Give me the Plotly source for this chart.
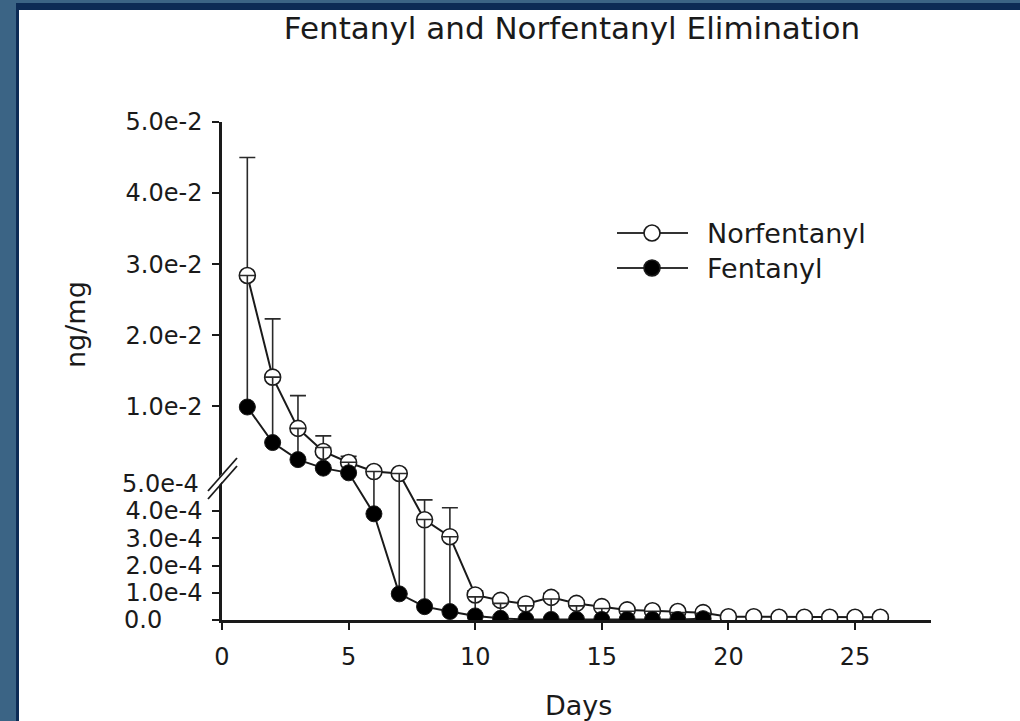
import plotly.graph_objects as go

# ---------------- data ----------------
norf_days = list(range(1, 27))
norf_vals = [0.0284, 0.0141, 0.0069, 0.00364, 0.0021, 0.00082, 0.00055,
             3.68e-4, 3.06e-4, 0.92e-4, 0.72e-4, 0.59e-4, 0.83e-4, 0.61e-4,
             0.49e-4, 0.37e-4, 0.34e-4, 0.31e-4, 0.27e-4, 0.12e-4, 0.12e-4,
             0.10e-4, 0.10e-4, 0.10e-4, 0.10e-4, 0.10e-4]
norf_err = [0.0166, 0.0082, 0.0046, 0.0022, 0.00085, 0.0, 0.0,
            0.73e-4, 1.06e-4, 0.15e-4, 0.10e-4, 0.10e-4, 0.15e-4, 0.10e-4,
            0.10e-4, 0.05e-4, 0.05e-4, 0.05e-4, 0.05e-4, 0.0, 0.0,
            0.0, 0.0, 0.0, 0.0, 0.0]

fent_days = list(range(1, 20))
fent_vals = [0.0099, 0.0049, 0.0025, 0.0013, 0.00064, 3.9e-4, 0.96e-4,
             0.49e-4, 0.31e-4, 0.15e-4, 0.06e-4, 0.02e-4, 0.02e-4, 0.02e-4,
             0.02e-4, 0.02e-4, 0.02e-4, 0.02e-4, 0.05e-4]
fent_err = [0.0185, 0.0092, 0.0044, 0.0029, 0.0015, 4.3e-4, 4.5e-4,
            3.2e-4, 2.75e-4, 0.70e-4, 0.55e-4, 0.50e-4, 0.75e-4, 0.50e-4,
            0.40e-4, 0.30e-4, 0.30e-4, 0.25e-4, 0.20e-4]

series_names = ["Norfentanyl", "Fentanyl"]

x_ticks = [0, 5, 10, 15, 20, 25]
y_ticks_low = [1e-4, 2e-4, 3e-4, 4e-4]
y_ticks_low_text = ["1.0e-4", "2.0e-4", "3.0e-4", "4.0e-4"]
y_ticks_up = [1e-2, 2e-2, 3e-2, 4e-2, 5e-2]
y_ticks_up_text = ["1.0e-2", "2.0e-2", "3.0e-2", "4.0e-2", "5.0e-2"]

# ---------------- broken-axis scale ----------------
BREAK = 5e-4
LOW_SCALE = 272000.0   # display units per ng/mg below the break
UP_BASE = 146.0        # display position where the upper segment starts
UP_SCALE = 7100.0      # display units per ng/mg above the break
Y_TOP = UP_BASE + (5e-2 - BREAK) * UP_SCALE


def disp(v):
    if v <= BREAK:
        return v * LOW_SCALE
    return UP_BASE + (v - BREAK) * UP_SCALE


def disp_list(vals):
    return [disp(v) for v in vals]


def err_plus(vals, errs):
    return [disp(v + e) - disp(v) for v, e in zip(vals, errs)]


FONT = "DejaVu Sans, Liberation Sans, Arial, sans-serif"
INK = "#1a1a1a"

fig = go.Figure()

fig.add_trace(go.Scatter(
    x=norf_days, y=disp_list(norf_vals), name=series_names[0],
    mode="lines+markers", showlegend=False,
    line=dict(color=INK, width=2),
    marker=dict(symbol="circle", size=16, color="white",
                line=dict(color=INK, width=1.6)),
    error_y=dict(type="data", symmetric=False,
                 array=err_plus(norf_vals, norf_err),
                 arrayminus=[0] * len(norf_vals),
                 color="#2a2a2a", thickness=1.6, width=8),
))

fig.add_trace(go.Scatter(
    x=fent_days, y=disp_list(fent_vals), name=series_names[1],
    mode="lines+markers", showlegend=False,
    line=dict(color=INK, width=2),
    marker=dict(symbol="circle", size=16, color="black",
                line=dict(color=INK, width=1)),
    error_y=dict(type="data", symmetric=False,
                 array=err_plus(fent_vals, fent_err),
                 arrayminus=[0] * len(fent_vals),
                 color="#2a2a2a", thickness=1.6, width=8),
))

# ---------------- layout geometry ----------------
W, H = 1020, 721
L, R, T, B = 222, 89, 122, 101
PW = W - L - R
PH = H - T - B


def px_x(px):
    return (px - L) / PW


def px_y(py):
    return (H - B - py) / PH


tickvals = [0.0] + [disp(v) for v in y_ticks_low] + [disp(v) for v in y_ticks_up]
ticktext = [""] + y_ticks_low_text + y_ticks_up_text

shapes = [
    # slide background: blue border, navy frame line, white page
    dict(type="rect", xref="paper", yref="paper",
         x0=px_x(0), x1=px_x(W), y0=px_y(H), y1=px_y(0),
         fillcolor="#3b6485", line=dict(width=0), layer="below"),
    dict(type="rect", xref="paper", yref="paper",
         x0=px_x(16), x1=px_x(W + 5), y0=px_y(H + 5), y1=px_y(3),
         fillcolor="#0c2b55", line=dict(width=0), layer="below"),
    dict(type="rect", xref="paper", yref="paper",
         x0=px_x(19), x1=px_x(W + 5), y0=px_y(H + 5), y1=px_y(10),
         fillcolor="white", line=dict(width=0), layer="below"),
    # axis break: white gap and two slashes
    dict(type="path", xref="paper", yref="paper",
         path="M {a},{b} L {c},{d} L {e},{f} L {g},{h} Z".format(
             a=px_x(214), b=px_y(491), c=px_x(232), d=px_y(470),
             e=px_x(232), f=px_y(462), g=px_x(214), h=px_y(483)),
         fillcolor="white", line=dict(width=0), layer="above"),
    dict(type="line", xref="paper", yref="paper",
         x0=px_x(208), y0=px_y(499), x1=px_x(237), y1=px_y(466),
         line=dict(color=INK, width=1.8), layer="above"),
    dict(type="line", xref="paper", yref="paper",
         x0=px_x(208), y0=px_y(491), x1=px_x(237), y1=px_y(458),
         line=dict(color=INK, width=1.8), layer="above"),
]

# legend drawn as decoration (long sample line with centred marker)
legend_rows = [(233, "white"), (268, "black")]
for (row_y, fill) in legend_rows:
    shapes.append(dict(type="line", xref="paper", yref="paper",
                       x0=px_x(617), x1=px_x(688), y0=px_y(row_y), y1=px_y(row_y),
                       line=dict(color="#333333", width=2), layer="above"))
    shapes.append(dict(type="circle", xref="paper", yref="paper",
                       x0=px_x(644), x1=px_x(660),
                       y0=px_y(row_y + 8), y1=px_y(row_y - 8),
                       fillcolor=fill, line=dict(color=INK, width=1.6),
                       layer="above"))

annotations = [
    dict(text="5.0e-4", xref="paper", yref="y", x=px_x(201), y=disp(BREAK),
         xanchor="right", yanchor="middle", showarrow=False,
         font=dict(family=FONT, size=24, color=INK)),
    dict(text="0.0", xref="paper", yref="y", x=px_x(122), y=0.0,
         xanchor="left", yanchor="middle", showarrow=False,
         font=dict(family=FONT, size=24, color=INK)),
    dict(text="ng/mg", xref="paper", yref="paper", x=px_x(75), y=px_y(325),
         textangle=-90, xanchor="center", yanchor="middle", showarrow=False,
         font=dict(family=FONT, size=27, color=INK)),
    dict(text="Days", xref="paper", yref="paper", x=px_x(578), y=px_y(705),
         xanchor="center", yanchor="middle", showarrow=False,
         font=dict(family=FONT, size=27, color=INK)),
]
for (row_y, _), name in zip(legend_rows, series_names):
    annotations.append(dict(text=name, xref="paper", yref="paper",
                            x=px_x(705), y=px_y(row_y), xanchor="left",
                            yanchor="middle", showarrow=False,
                            font=dict(family=FONT, size=27, color=INK)))

fig.update_layout(
    width=W, height=H,
    margin=dict(l=L, r=R, t=T, b=B, pad=0),
    paper_bgcolor="white", plot_bgcolor="rgba(0,0,0,0)",
    title=dict(text="Fentanyl and Norfentanyl Elimination",
               x=572 / W, xanchor="center", y=1 - 28 / H, yanchor="middle",
               font=dict(family=FONT, size=31, color=INK)),
    font=dict(family=FONT, color=INK),
    showlegend=False,
    shapes=shapes,
    annotations=annotations,
)

fig.update_xaxes(range=[0, 28], tickvals=x_ticks, ticks="outside", ticklen=7,
                 tickwidth=2, tickcolor=INK, showline=True, linewidth=2.5,
                 linecolor=INK, showgrid=False, zeroline=False,
                 tickfont=dict(family=FONT, size=24, color=INK),
                 ticklabelstandoff=6, automargin=False)
fig.update_yaxes(range=[0, Y_TOP], tickvals=tickvals, ticktext=ticktext,
                 ticks="outside", ticklen=7, tickwidth=2, tickcolor=INK,
                 showline=True, linewidth=2.5, linecolor=INK, showgrid=False,
                 zeroline=False, tickfont=dict(family=FONT, size=24, color=INK),
                 ticklabelstandoff=5, automargin=False)

fig.write_html("out.html", config={"displayModeBar": False},
               post_script="document.body.style.margin='0';")
